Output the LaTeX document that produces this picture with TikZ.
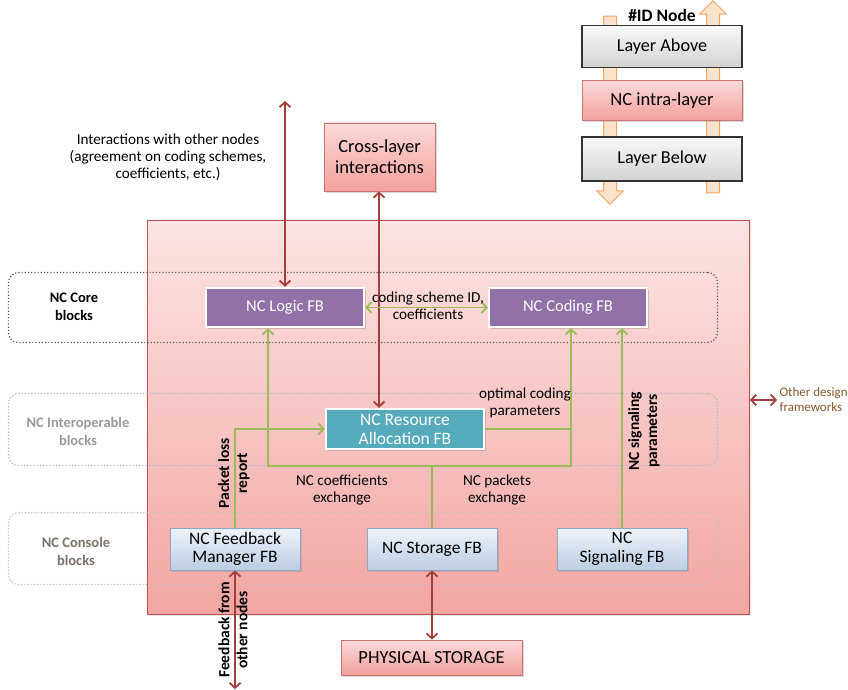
\documentclass[tikz,border=0pt]{standalone}
\usepackage{fontspec}
\setmainfont{Carlito}
\usetikzlibrary{arrows.meta,shadows,shapes.arrows}
\definecolor{nred}{HTML}{C0504D}
\definecolor{dred}{HTML}{A23F3B}
\definecolor{ngreen}{HTML}{9BBB59}
\definecolor{npurple}{HTML}{9171A7}
\definecolor{nteal}{HTML}{55AABB}
\definecolor{nblueb}{HTML}{8FA6C4}
\definecolor{norange}{HTML}{F6A55E}
\definecolor{norangef}{HTML}{FBE3CC}
\definecolor{maintop}{HTML}{FCE4E3}
\definecolor{mainbot}{HTML}{F2A6A2}
\definecolor{pinktop}{HTML}{FCDAD9}
\definecolor{pinkbot}{HTML}{F3A09C}
\definecolor{constop}{HTML}{EEF3FA}
\definecolor{consbot}{HTML}{BCCDE3}
\tikzset{
  fbbox/.style={draw=white, line width=2.5pt, text=white, font=\fontsize{16.5}{19}\selectfont, align=center,
    drop shadow={shadow xshift=1.5pt, shadow yshift=-1.5pt, opacity=0.35}},
  consbox/.style={draw=nblueb, line width=0.8pt, top color=constop, bottom color=consbot,
    font=\fontsize{17.5}{18.5}\selectfont, align=center,
    drop shadow={shadow xshift=1.5pt, shadow yshift=-1.5pt, opacity=0.3}},
  pinkbox/.style={draw=nred!80, line width=0.8pt, top color=pinktop, bottom color=pinkbot,
    font=\fontsize{18.5}{21}\selectfont, align=center,
    drop shadow={shadow xshift=1.5pt, shadow yshift=-1.5pt, opacity=0.3}},
  graybox/.style={draw=black!80, line width=1.6pt, top color=gray!5, bottom color=gray!35,
    font=\fontsize{18.2}{21}\selectfont, align=center},
  rowbox/.style={rounded corners=10pt, dotted, line width=1.2pt},
  rowlabel/.style={font=\bfseries\fontsize{14.5}{18}\selectfont, align=center},
  garr/.style={draw=ngreen, line width=1.8pt, arrows={-Straight Barb[length=5pt,width=11pt]}},
  garrb/.style={draw=ngreen, line width=1.8pt, arrows={Straight Barb[length=5pt,width=11pt]-Straight Barb[length=5pt,width=11pt]}},
  gline/.style={draw=ngreen, line width=1.8pt},
  rarrb/.style={draw=dred, line width=1.8pt, arrows={Straight Barb[length=5pt,width=11pt]-Straight Barb[length=5pt,width=11pt]}},
  lbl/.style={font=\fontsize{15.2}{17}\selectfont, align=center},
  rlbl/.style={font=\bfseries\fontsize{15.5}{18}\selectfont, align=center, rotate=90},
  legarr/.style={single arrow, draw=norange, fill=norangef, line width=1pt, inner sep=6pt,
    single arrow head extend=7pt, minimum width=26pt}
}
\begin{document}
\begin{tikzpicture}[x=1pt,y=-1pt]
\useasboundingbox (0,0) rectangle (848,690);
% main area
\node[draw=nred, line width=1pt, top color=maintop, bottom color=mainbot,
  minimum width=602pt, minimum height=394pt, inner sep=0pt,
  drop shadow={shadow xshift=1.5pt, shadow yshift=-1.5pt, opacity=0.2}] (main) at (448.5,417.5) {};
% rows
\node[rowbox, draw=black!65, minimum width=709pt, minimum height=70pt] (rowcore) at (363,307.5) {};
\node[rowbox, draw=nblueb!80, minimum width=709pt, minimum height=72pt] (rowint) at (363,429.5) {};
\node[rowbox, draw=black!25, minimum width=709pt, minimum height=72pt] (rowcon) at (363,548.5) {};
\node[rowlabel] (lcore) at (74,307) {NC Core\\blocks};
\node[rowlabel, text=black!40] (lint) at (78,431) {NC Interoperable\\blocks};
\node[rowlabel, text=black!45!brown!25!gray] (lcon) at (76,551) {NC Console\\blocks};
% legend
\node[legarr, minimum height=188pt, rotate=-90] (la) at (610,107) {};
\node[legarr, minimum height=192pt, rotate=90] (ra) at (713,100) {};
\node[font=\bfseries\fontsize{17.5}{19}\selectfont] (idn) at (662,15) {\#ID Node};
\node[graybox, minimum width=160pt, minimum height=42pt] (above) at (662,46.5) {Layer Above};
\node[pinkbox, minimum width=160pt, minimum height=40pt] (intra) at (662,100.5) {NC intra-layer};
\node[graybox, minimum width=160pt, minimum height=44pt] (below) at (662,159) {Layer Below};
% coordinates
\coordinate (iwo) at (285,101);
\coordinate (xl) at (379,0);
\coordinate (jl) at (268,466);
\coordinate (jr) at (571,466);
\coordinate (fbend) at (235,689);
\coordinate (od) at (777,400);
% boxes
\node[pinkbox, minimum width=111pt, minimum height=68pt] (cross) at (379.5,157) {Cross-layer\\interactions};
\node[fbbox, fill=npurple, minimum width=158pt, minimum height=39pt] (logic) at (285,307.5) {NC Logic FB};
\node[fbbox, fill=npurple, minimum width=158pt, minimum height=39pt] (coding) at (568,307.5) {NC Coding FB};
\node[fbbox, fill=nteal, minimum width=158pt, minimum height=40pt, font=\fontsize{17.5}{19}\selectfont] (res) at (405,429) {NC Resource\\Allocation FB};
\node[consbox, minimum width=130pt, minimum height=42pt] (fb) at (235,549) {NC Feedback\\Manager FB};
\node[consbox, minimum width=130pt, minimum height=42pt] (st) at (432,549) {NC Storage FB};
\node[consbox, minimum width=130pt, minimum height=42pt] (sig) at (622,549) {NC\\Signaling FB};
\node[pinkbox, minimum width=181pt, minimum height=35pt] (phys) at (431.5,657.5) {PHYSICAL STORAGE};
% red connectors
\draw[rarrb] (iwo) -- (logic.north);
\draw[rarrb] (cross.south -| xl) -- (res.north -| xl);
\draw[rarrb] (fb.south) -- (fbend);
\draw[rarrb] (st.south) -- (phys.north -| st.south);
\draw[rarrb] (main.east |- od) -- (od);
% green connectors
\draw[garrb] (logic.south -| jl) -- (jl) -- (jr) -- (coding.south -| jr);
\draw[gline] (st.north) -- (st.north |- jl);
\draw[gline] (res.east) -- (res.east -| jr);
\draw[garr] (fb.north) |- (res.west);
\draw[garr] (sig.north) -- (coding.south -| sig.north);
\draw[garrb] (logic.east) -- (coding.west);
% labels
\node[lbl] (tiwo) at (168,157) {Interactions with other nodes\\(agreement on coding schemes,\\coefficients, etc.)};
\node[lbl] (tcs) at (428,306) {coding scheme ID,\\coefficients};
\node[lbl] (tocp) at (525,403) {optimal coding\\parameters};
\node[lbl] (tnce) at (342,490) {NC coefficients\\exchange};
\node[lbl] (tnpe) at (497,490) {NC packets\\exchange};
\node[rlbl] (tplr) at (234,473) {Packet loss\\report};
\node[rlbl] (tnsp) at (644,431) {NC signaling\\parameters};
\node[rlbl] (tffo) at (233,630) {Feedback from\\other nodes};
\node[font=\fontsize{13}{15}\selectfont, align=left, text=brown!70!black, anchor=west] (tod) at (776,400) {Other design\\frameworks};
\end{tikzpicture}
\end{document}
